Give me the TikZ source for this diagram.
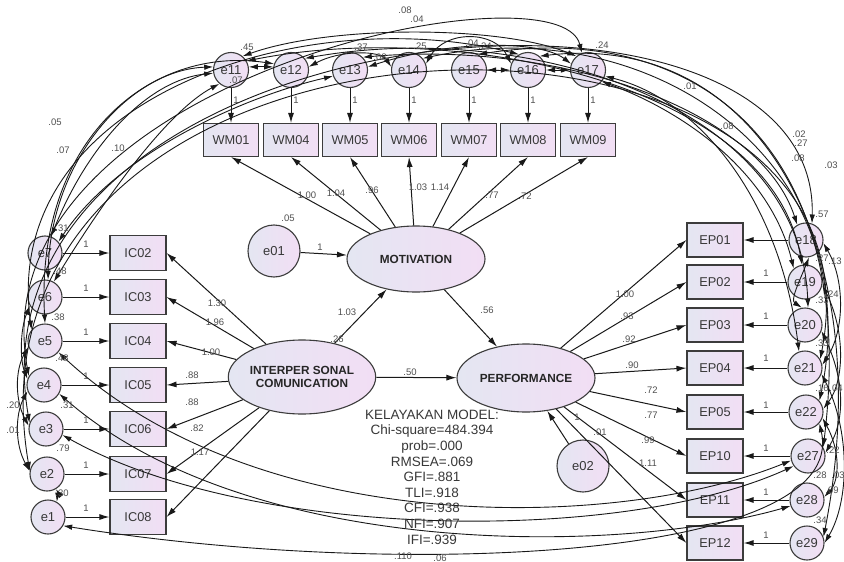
\documentclass[tikz,border=0pt]{standalone}
\usepackage{fontspec}
\setmainfont{Liberation Sans}
\usetikzlibrary{arrows.meta,shapes.geometric}
\definecolor{shadeL}{RGB}{228,230,242}
\definecolor{shadeR}{RGB}{242,222,244}
\definecolor{edgec}{RGB}{60,60,60}
\definecolor{lbl}{RGB}{80,80,80}
\begin{document}
\begin{tikzpicture}[x=1pt,y=-1pt,
  lat/.style={ellipse, draw=edgec, line width=1.1pt, left color=shadeL, right color=shadeR,
    font=\fontsize{11.8}{13.5}\selectfont\bfseries, text=black!85, align=center, inner sep=0pt},
  obs/.style={rectangle, draw=edgec, line width=1.1pt, left color=shadeL, right color=shadeR,
    minimum width=55pt, minimum height=34pt, font=\fontsize{12.8}{14}\selectfont, text=black!78, inner sep=0pt},
  err/.style={circle, draw=edgec, line width=1.1pt, left color=shadeL, right color=shadeR,
    minimum size=34pt, inner sep=0pt, font=\fontsize{13}{14}\selectfont, text=black!78},
  reg/.style={draw=black!90, line width=1pt, -{Latex[length=10pt,width=6pt]}},
  cov/.style={draw=black!90, line width=0.9pt, {Latex[length=9pt,width=5.5pt]}-{Latex[length=9pt,width=5.5pt]}},
  coef/.style={font=\fontsize{9.5}{10}\selectfont, text=lbl, inner sep=0pt},
  fit/.style={font=\fontsize{13.5}{15.6}\selectfont, text=black!78, align=center, inner sep=0pt}]

\fill[white] (0,0) rectangle (844,562);
\useasboundingbox (0,0) rectangle (844,562);

% ---- latent variables and their disturbances
\node[lat, minimum width=138pt, minimum height=66pt] (mot) at (416,259) {MOTIVATION};
\node[lat, minimum width=144pt, minimum height=74pt] (ic) at (302,377) {INTERPER SONAL\\COMUNICATION};
\node[lat, minimum width=138pt, minimum height=68pt] (perf) at (526,378) {PERFORMANCE};
\node[err, minimum size=52pt] (e01) at (274,251) {e01};
\node[err, minimum size=52pt] (e02) at (583,466) {e02};

% ---- motivation indicators
\foreach \n/\lab/\x in {e11/WM01/231, e12/WM04/291, e13/WM05/350, e14/WM06/409, e15/WM07/469, e16/WM08/528, e17/WM09/588}{
  \node[err, minimum size=35pt] (\n) at (\x,70) {\n};
  \node[obs, minimum height=33pt] (\lab) at (\x,140) {\lab};
  \draw[reg] (\n) -- (\lab);
  \node[coef] at (\x+5,100) {1};
}

% ---- communication indicators
\foreach \n/\lab/\y/\x in {e7/IC02/253/45, e6/IC03/297/45, e5/IC04/341/45, e4/IC05/385/44, e3/IC06/429/46, e2/IC07/474/47, e1/IC08/517/48}{
  \node[err] (\n) at (\x,\y) {\n};
  \node[obs, minimum width=56pt, minimum height=35pt] (\lab) at (138,\y) {\lab};
  \draw[reg] (\n) -- (\lab);
  \node[coef] at (86,\y-9) {1};
}

% ---- performance indicators
\foreach \n/\lab/\y/\x in {e18/EP01/240/806, e19/EP02/282/805, e20/EP03/325/805, e21/EP04/368/805, e22/EP05/412/806, e27/EP10/456/808, e28/EP11/500/807, e29/EP12/543/807}{
  \node[err] (\n) at (\x,\y) {\n};
  \node[obs, minimum width=56pt] (\lab) at (715,\y) {\lab};
  \draw[reg] (\n) -- (\lab);
}
\foreach \y in {273,316,358,405,448,492,535}{ \node[coef] at (766,\y) {1}; }

% ---- loadings
\foreach \lab in {WM01,WM04,WM05,WM06,WM07,WM08,WM09}{ \draw[reg] (mot) -- (\lab.south); }
\foreach \lab in {IC02,IC03,IC04,IC05,IC06,IC07,IC08}{ \draw[reg] (ic) -- (\lab.east); }
\foreach \lab in {EP01,EP02,EP03,EP04,EP05,EP10,EP11,EP12}{ \draw[reg] (perf) -- (\lab.west); }

% ---- structural paths
\draw[reg] (e01) -- (mot);
\draw[reg] (e02) -- (perf);
\draw[reg] (ic) -- (mot);
\draw[reg] (mot) -- (perf);
\draw[reg] (ic) -- (perf);

% ---- covariances between error terms
% left column to top row
\draw[cov] (e7.70) .. controls (90,140) and (150,80) .. (e11.190);
\draw[cov] (e6.80) .. controls (50,160) and (130,70) .. (e11.170);
\draw[cov] (e5.90) .. controls (35,140) and (150,45) .. (e12.160);
\draw[cov] (e7.40) .. controls (120,150) and (250,95) .. (e13.200);
\draw[cov] (e6.60) .. controls (110,190) and (170,110) .. (e11.230);
% left column over the top to the right
\draw[cov] (e4.150) .. controls (-25,80) and (560,-40) .. (e17.110);
\draw[cov] (e3.160) .. controls (-40,10) and (820,-70) .. (e18.70);
\draw[cov] (e2.170) .. controls (-55,-30) and (900,-50) .. (e21.30);
\draw[cov] (e5.140) .. controls (0,100) and (300,0) .. (e16.120);
% top row to right column
\draw[cov] (e11.30) .. controls (450,20) and (770,80) .. (e19.100);
\draw[cov] (e12.40) .. controls (520,20) and (800,100) .. (e20.80);
\draw[cov] (e13.45) .. controls (560,40) and (760,110) .. (e18.120);
\draw[cov] (e17.-20) .. controls (700,100) and (780,200) .. (e21.110);
\draw[cov] (e17.-40) .. controls (680,110) and (770,170) .. (e19.130);
\draw[cov] (e14.40) .. controls (650,10) and (870,160) .. (e22.40);
\draw[cov] (e16.50) .. controls (760,30) and (880,250) .. (e29.20);
\draw[cov] (e15.60) .. controls (700,20) and (860,150) .. (e27.30);
% within the top row
\draw[cov] (e11.10) -- (e12.170);
\draw[cov] (e12.10) .. controls (340,50) and (380,50) .. (e14.170);
\draw[cov] (e14.20) .. controls (445,30) and (495,30) .. (e16.160);
\draw[cov] (e15.0) -- (e16.180);
\draw[cov] (e16.0) -- (e17.180);
\draw[cov] (e13.10) .. controls (450,40) and (540,40) .. (e17.160);
\draw[cov] (e11.50) .. controls (330,25) and (500,25) .. (e17.130);
% within the right column
\draw[cov] (e18.-10) .. controls (845,280) and (845,330) .. (e21.10);
\draw[cov] (e19.-10) .. controls (845,330) and (845,380) .. (e22.10);
\draw[cov] (e20.-20) .. controls (845,380) and (845,420) .. (e27.10);
\draw[cov] (e21.-20) .. controls (850,430) and (850,500) .. (e29.0);
\draw[cov] (e22.-20) .. controls (840,450) and (840,480) .. (e28.10);
\draw[cov] (e18.-80) .. controls (800,280) and (790,300) .. (e20.100);
% within the left column
\draw[cov] (e5.200) .. controls (15,370) and (15,400) .. (e3.170);
\draw[cov] (e4.200) .. controls (15,415) and (15,445) .. (e2.170);
\draw[cov] (e6.210) .. controls (20,330) and (20,360) .. (e4.160);
\draw[cov] (e2.-60) .. controls (58,492) .. (e1.60);
% along the bottom
\draw[cov] (e1.-30) .. controls (400,580) and (850,560) .. (e22.-40);
\draw[cov] (e4.-30) .. controls (250,560) and (620,555) .. (e28.200);
\draw[cov] (e3.-20) .. controls (250,540) and (620,545) .. (e27.215);
\draw[cov] (e5.-40) .. controls (260,540) and (620,530) .. (e27.195);

% ---- estimates
\foreach \t/\x/\y in {1.00/307/195, 1.04/336/193, .96/372/190, 1.03/418/187, 1.14/440/187, .77/492/195, .72/525/196,
  1.30/217/303, 1.96/215/322, 1.00/211/352, .88/192/375, .88/192/402, .82/197/428, 1.17/200/452,
  1.00/625/294, .93/627/316, .92/629/339, .90/632/365, .72/651/390, .77/651/415, .99/648/440, 1.11/648/463,
  1.03/347/312, .26/337/339, .56/487/310, .50/410/372, .05/288/218, .01/600/432}{
  \node[coef] at (\x,\y) {\t};
}
\node[coef] at (320,247) {1};
\node[coef] at (577,417) {1};
% variances and covariances
\foreach \t/\x/\y in {.08/405/10, .04/417/19, .45/247/47, .07/236/80, .37/361/47, .08/380/57, .25/420/46,
  .04/472/43, .24/485/46, .24/602/45, .01/690/86, .08/727/126, .02/799/134, .27/801/143, .08/798/158, .03/831/165,
  .05/55/122, .07/63/150, .10/118/148,
  .31/62/228, .48/60/271, .38/58/317, .48/62/358, .31/67/405, .79/63/448, .30/62/493, .20/13/405, .01/13/430,
  .57/822/214, .27/822/258, .13/835/261, .24/832/294, .33/822/300, .33/822/343, .16/822/388, .04/836/388,
  .22/833/450, .28/820/475, .03/838/475, .09/832/490, .34/820/520, .110/403/556, .06/440/558}{
  \node[coef] at (\x,\y) {\t};
}

% ---- fit summary
\node[fit] (fitbox) at (432,477) {KELAYAKAN MODEL:\\Chi-square=484.394\\prob=.000\\RMSEA=.069\\GFI=.881\\TLI=.918\\CFI=.938\\NFI=.907\\IFI=.939};
\end{tikzpicture}
\end{document}
